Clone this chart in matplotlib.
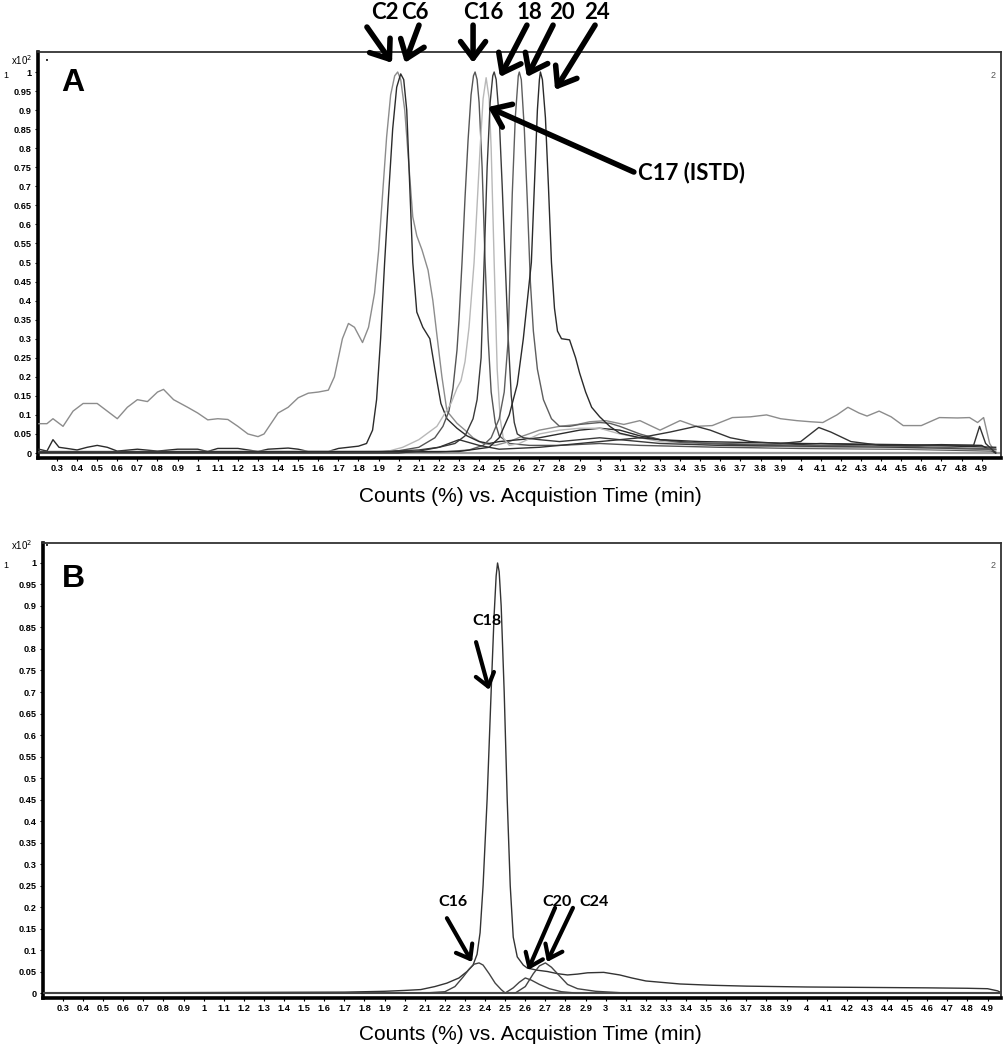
import numpy as np
import matplotlib
matplotlib.use('Agg')
import matplotlib.pyplot as plt

# ---- panel A traces (time min, counts x10^2) ----
a_c2 = [(0.21,0.077),(0.25,0.077),(0.28,0.09),(0.33,0.07),(0.38,0.11),(0.43,0.13),(0.5,0.13),
        (0.55,0.11),(0.6,0.09),(0.65,0.12),(0.7,0.14),(0.75,0.135),(0.8,0.16),(0.83,0.167),
        (0.88,0.14),(0.95,0.12),(1.0,0.105),(1.05,0.087),(1.1,0.09),(1.15,0.088),(1.2,0.07),
        (1.25,0.05),(1.3,0.043),(1.33,0.05),(1.4,0.105),(1.45,0.12),(1.5,0.145),(1.55,0.157),
        (1.6,0.16),(1.65,0.165),(1.68,0.2),(1.72,0.3),(1.75,0.34),(1.78,0.33),(1.82,0.29),
        (1.85,0.33),(1.88,0.42),(1.9,0.53),(1.92,0.68),(1.94,0.83),(1.96,0.94),(1.98,0.99),
        (1.995,1.0),(2.01,0.98),(2.03,0.9),(2.05,0.76),(2.07,0.62),(2.09,0.57),(2.116,0.533),
        (2.146,0.48),(2.17,0.4),(2.19,0.31),(2.215,0.2),(2.24,0.11),(2.29,0.078),(2.33,0.06),
        (2.37,0.04),(2.42,0.025),(2.48,0.02),(2.55,0.03),(2.62,0.045),(2.7,0.06),(2.8,0.07),
        (2.89,0.075),(2.95,0.082),(3.03,0.085),(3.12,0.075),(3.2,0.085),(3.3,0.06),(3.4,0.085),
        (3.48,0.07),(3.56,0.072),(3.66,0.093),(3.75,0.095),(3.83,0.1),(3.9,0.09),(3.98,0.085),
        (4.05,0.082),(4.11,0.08),(4.18,0.1),(4.235,0.12),(4.29,0.105),(4.33,0.097),(4.39,0.11),
        (4.45,0.095),(4.51,0.072),(4.6,0.072),(4.69,0.093),(4.78,0.092),(4.84,0.093),(4.88,0.08),
        (4.91,0.093),(4.94,0.025),(4.97,0.0)]
a_c6 = [(0.21,0.01),(0.25,0.005),(0.28,0.035),(0.31,0.015),(0.35,0.012),(0.4,0.008),(0.45,0.015),
        (0.5,0.02),(0.55,0.015),(0.6,0.005),(0.7,0.01),(0.8,0.005),(0.9,0.01),(1.0,0.01),
        (1.05,0.004),(1.1,0.012),(1.2,0.012),(1.3,0.004),(1.35,0.01),(1.45,0.013),(1.5,0.01),
        (1.55,0.004),(1.65,0.004),(1.7,0.012),(1.8,0.018),(1.84,0.025),(1.87,0.06),(1.89,0.14),
        (1.91,0.3),(1.93,0.5),(1.95,0.68),(1.97,0.85),(1.99,0.96),(2.01,0.995),(2.025,0.98),
        (2.04,0.9),(2.055,0.7),(2.07,0.5),(2.09,0.37),(2.12,0.33),(2.155,0.3),(2.18,0.22),
        (2.21,0.13),(2.24,0.09),(2.29,0.065),(2.34,0.045),(2.4,0.03),(2.45,0.025),(2.5,0.03),
        (2.6,0.035),(2.7,0.04),(2.8,0.05),(2.9,0.06),(3.0,0.065),(3.1,0.06),(3.2,0.045),
        (3.3,0.035),(3.4,0.03),(3.5,0.025),(3.7,0.022),(3.9,0.02),(4.1,0.025),(4.3,0.022),
        (4.5,0.02),(4.7,0.022),(4.9,0.02),(4.97,0.0)]
a_c16 = [(0.21,0.004),(1.0,0.004),(1.9,0.004),(2.0,0.006),(2.1,0.015),(2.18,0.04),(2.22,0.07),
         (2.25,0.11),(2.27,0.17),(2.29,0.27),(2.3,0.35),(2.315,0.5),(2.33,0.67),(2.345,0.82),
         (2.36,0.94),(2.372,0.99),(2.38,1.0),(2.39,0.98),(2.4,0.92),(2.415,0.75),(2.43,0.5),
         (2.445,0.3),(2.46,0.16),(2.48,0.08),(2.5,0.045),(2.55,0.025),(2.65,0.02),(2.8,0.02),
         (3.0,0.025),(3.2,0.02),(3.6,0.015),(4.0,0.012),(4.5,0.01),(4.97,0.005)]
a_c17 = [(0.21,0.003),(1.95,0.005),(2.02,0.015),(2.1,0.035),(2.19,0.07),(2.26,0.13),(2.29,0.17),
         (2.31,0.19),(2.33,0.24),(2.35,0.33),(2.375,0.5),(2.39,0.65),(2.405,0.8),(2.42,0.93),
         (2.435,0.985),(2.45,0.93),(2.46,0.8),(2.475,0.5),(2.49,0.22),(2.505,0.09),(2.52,0.04),
         (2.55,0.02),(2.6,0.025),(2.7,0.05),(2.8,0.06),(2.9,0.065),(3.0,0.065),(3.1,0.05),
         (3.3,0.03),(3.6,0.02),(4.0,0.015),(4.5,0.012),(4.97,0.008)]
a_c18 = [(0.21,0.003),(1.9,0.003),(2.1,0.008),(2.2,0.015),(2.28,0.025),(2.33,0.045),(2.37,0.09),
         (2.39,0.14),(2.41,0.25),(2.425,0.5),(2.44,0.75),(2.455,0.92),(2.468,0.99),(2.475,1.0),
         (2.485,0.98),(2.5,0.88),(2.515,0.7),(2.53,0.5),(2.545,0.3),(2.56,0.15),(2.575,0.08),
         (2.59,0.05),(2.62,0.04),(2.7,0.035),(2.8,0.03),(2.9,0.035),(3.0,0.04),(3.1,0.035),
         (3.3,0.025),(3.6,0.02),(4.0,0.018),(4.5,0.015),(4.97,0.01)]
a_c20 = [(0.21,0.002),(2.2,0.002),(2.35,0.008),(2.42,0.02),(2.46,0.04),(2.5,0.09),(2.525,0.16),
         (2.545,0.3),(2.555,0.5),(2.565,0.68),(2.58,0.88),(2.595,0.99),(2.6,1.0),(2.61,0.98),
         (2.625,0.85),(2.64,0.66),(2.655,0.45),(2.67,0.32),(2.69,0.22),(2.72,0.14),(2.76,0.09),
         (2.8,0.07),(2.85,0.07),(2.9,0.075),(3.0,0.08),(3.05,0.078),(3.1,0.07),(3.2,0.05),
         (3.3,0.035),(3.4,0.028),(3.6,0.025),(4.0,0.02),(4.5,0.018),(4.97,0.01)]
a_c24 = [(0.21,0.002),(2.3,0.004),(2.45,0.015),(2.5,0.04),(2.55,0.1),(2.59,0.18),(2.62,0.3),
         (2.64,0.4),(2.66,0.5),(2.675,0.7),(2.69,0.9),(2.7,0.98),(2.705,1.0),(2.715,0.98),
         (2.73,0.88),(2.745,0.7),(2.76,0.5),(2.775,0.38),(2.79,0.32),(2.81,0.3),(2.85,0.297),
         (2.88,0.25),(2.9,0.21),(2.93,0.16),(2.96,0.12),(3.0,0.095),(3.05,0.07),(3.1,0.052),
         (3.2,0.04),(3.3,0.035),(3.5,0.03),(3.7,0.028),(4.0,0.025),(4.5,0.022),(4.97,0.015)]
a_low = [(0.21,0.0),(2.0,0.0),(2.1,0.005),(2.2,0.015),(2.3,0.035),(2.4,0.02),(2.5,0.01),
         (2.7,0.015),(2.9,0.025),(3.0,0.03),(3.2,0.04),(3.35,0.055),(3.48,0.07),(3.55,0.06),
         (3.65,0.04),(3.75,0.03),(3.9,0.025),(4.0,0.03),(4.09,0.067),(4.15,0.055),(4.25,0.03),
         (4.4,0.02),(4.6,0.02),(4.8,0.02),(4.86,0.02),(4.89,0.07),(4.92,0.025),(4.97,0.0)]

# ---- panel B traces ----
b_c18 = [(0.2,0.0),(1.7,0.002),(1.9,0.004),(2.0,0.006),(2.08,0.008),(2.15,0.015),(2.21,0.023),
         (2.27,0.035),(2.31,0.05),(2.34,0.065),(2.36,0.09),(2.375,0.14),(2.39,0.25),(2.41,0.45),
         (2.43,0.7),(2.445,0.88),(2.455,0.97),(2.462,1.0),(2.47,0.98),(2.48,0.9),(2.495,0.7),
         (2.51,0.45),(2.525,0.25),(2.54,0.13),(2.56,0.084),(2.59,0.065),(2.61,0.058),(2.66,0.053),
         (2.71,0.05),(2.76,0.045),(2.81,0.042),(2.86,0.044),(2.91,0.047),(2.99,0.048),(3.07,0.042),
         (3.13,0.035),(3.2,0.028),(3.37,0.021),(3.53,0.018),(3.7,0.016),(4.0,0.014),(4.3,0.013),
         (4.6,0.012),(4.8,0.011),(4.9,0.01),(4.95,0.005),(4.97,0.0)]
b_c16 = [(0.2,0.0),(2.1,0.0),(2.2,0.003),(2.25,0.015),(2.29,0.037),(2.32,0.055),(2.345,0.067),
         (2.37,0.07),(2.39,0.065),(2.42,0.045),(2.45,0.023),(2.48,0.008),(2.5,0.0),(4.97,0.0)]
b_c20 = [(0.2,0.0),(2.5,0.0),(2.54,0.012),(2.57,0.025),(2.6,0.035),(2.63,0.03),(2.67,0.02),
         (2.72,0.01),(2.78,0.003),(2.85,0.0),(4.97,0.0)]
b_c24 = [(0.2,0.0),(2.55,0.0),(2.6,0.015),(2.64,0.045),(2.67,0.063),(2.7,0.07),(2.73,0.06),
         (2.77,0.04),(2.81,0.02),(2.86,0.01),(2.95,0.004),(3.1,0.0),(4.97,0.0)]

x_ticks = np.round(np.arange(0.3, 4.95, 0.1), 1)
y_ticks = np.round(np.arange(0, 1.0001, 0.05), 2)

traces_a = [(a_c2, '#8c8c8c'), (a_c6, '#2b2b2b'), (a_c16, '#555555'), (a_c17, '#b8b8b8'),
            (a_c18, '#3a3a3a'), (a_c20, '#5e5e5e'), (a_c24, '#2a2a2a'), (a_low, '#333333')]
traces_b = [(b_c18, '#333333'), (b_c16, '#444444'), (b_c20, '#444444'), (b_c24, '#444444')]

W, H = 1006, 1050
fig = plt.figure(figsize=(W / 100, H / 100), dpi=100)

def px(x0, y0, x1, y1):
    return [x0 / W, 1 - y1 / H, (x1 - x0) / W, (y1 - y0) / H]

axA = fig.add_axes(px(38, 52, 1001, 458))
axB = fig.add_axes(px(43, 543, 1001, 998))

def style(ax, xlim, ylim):
    ax.set_xlim(*xlim)
    ax.set_ylim(*ylim)
    ax.axhline(0, color='#9a9a9a', lw=1.6, zorder=1)
    ax.set_xticks(x_ticks)
    ax.set_xticklabels([f'{v:g}' for v in x_ticks])
    ax.set_yticks(y_ticks)
    ax.set_yticklabels([f'{v:g}' for v in y_ticks])
    ax.tick_params(axis='both', labelsize=6.6, length=2.5, width=0.8, pad=2)
    for lab in ax.get_xticklabels() + ax.get_yticklabels():
        lab.set_fontweight('bold')
        lab.set_family('Liberation Sans')
    ax.spines['left'].set_linewidth(2.6)
    ax.spines['bottom'].set_linewidth(2.6)
    ax.spines['top'].set_linewidth(1.3)
    ax.spines['right'].set_linewidth(1.3)
    ax.spines['top'].set_color('#333333')
    ax.spines['right'].set_color('#333333')

for ax, traces in [(axA, traces_a), (axB, traces_b)]:
    for pts, col in traces:
        arr = np.array(pts)
        ax.plot(arr[:, 0], arr[:, 1], color=col, lw=1.0, zorder=3)

style(axA, (0.2055, 4.9965), (-0.0131, 1.0525))
style(axB, (0.2005, 4.9667), (-0.0116, 1.0465))

# panel letters and axis titles
fig.text(73 / W, 1 - 83 / H, 'A', fontsize=23, fontweight='bold', family='Liberation Sans',
         ha='center', va='center')
fig.text(73 / W, 1 - 579 / H, 'B', fontsize=23, fontweight='bold', family='Liberation Sans',
         ha='center', va='center')
xlab = 'Counts (%) vs. Acquistion Time (min)'
fig.text(530 / W, 1 - 496 / H, xlab, fontsize=15, family='Liberation Sans', ha='center', va='center')
fig.text(530 / W, 1 - 1034 / H, xlab, fontsize=15, family='Liberation Sans', ha='center', va='center')

# small instrument marks
for ytop, yone in [(60, 76), (545, 565)]:
    fig.text(22 / W, 1 - ytop / H, r'x10$^2$', fontsize=7, family='Liberation Sans',
             ha='center', va='center')
    fig.text(47 / W, 1 - (ytop + 1) / H, '\u2022', fontsize=5, ha='center', va='center')
    fig.text(6 / W, 1 - yone / H, '1', fontsize=6.5, family='Liberation Sans', ha='center', va='center')
    fig.text(993 / W, 1 - yone / H, '2', fontsize=6.5, color='#555555', family='Liberation Sans',
             ha='center', va='center')

lab_font = dict(fontsize=16, fontweight='bold', family='Lato')

def arrow(ax, tail, tip, lw=4.0, scale=20):
    ax.annotate('', xy=tip, xytext=tail, annotation_clip=False,
                arrowprops=dict(arrowstyle='->,head_length=0.6,head_width=0.45', lw=lw,
                                color='black', mutation_scale=scale, shrinkA=0, shrinkB=0))

# panel A labels (data coordinates)
labels_a = [('C2', 1.932, (1.842, 1.118), (1.967, 1.024)),
            ('C6', 2.081, (2.101, 1.123), (2.031, 1.024)),
            ('C16', 2.419, (2.37, 1.123), (2.37, 1.024)),
            ('18', 2.653, (2.638, 1.123), (2.504, 0.987)),
            ('20', 2.812, (2.768, 1.123), (2.638, 0.987)),
            ('24', 2.987, (2.977, 1.123), (2.778, 0.953))]
for txt, tx, tail, tip in labels_a:
    axA.text(tx, 1.155, txt, ha='center', va='center', clip_on=False, **lab_font)
    arrow(axA, tail, tip)
arrow(axA, (3.17, 0.7375), (2.444, 0.908))
axA.text(3.19, 0.7375, 'C17 (ISTD)', ha='left', va='center', **lab_font)

# panel B labels
small_font = dict(fontsize=11.5, fontweight='bold', family='Lato')
labels_b = [('C18', 2.41, 0.865, (2.355, 0.816), (2.42, 0.705)),
            ('C16', 2.24, 0.212, (2.21, 0.174), (2.335, 0.072)),
            ('C20', 2.758, 0.212, (2.748, 0.198), (2.613, 0.053)),
            ('C24', 2.942, 0.212, (2.837, 0.198), (2.708, 0.072))]
for txt, tx, ty, tail, tip in labels_b:
    axB.text(tx, ty, txt, ha='center', va='center', **small_font)
    arrow(axB, tail, tip, lw=3.0, scale=15)

fig.savefig('out.png', dpi=100)
